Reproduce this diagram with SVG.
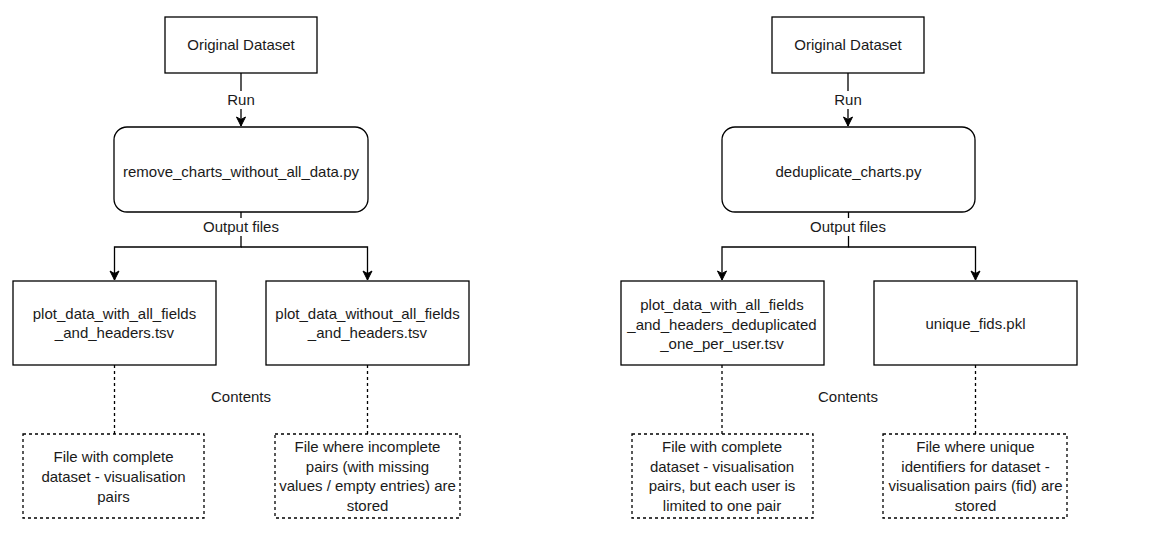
<svg xmlns="http://www.w3.org/2000/svg" width="1149" height="540" viewBox="0 0 1149 540">
<style>
  .box { fill: #fff; stroke: #000; stroke-width: 1.3; }
  .dbox { fill: #fff; stroke: #000; stroke-width: 1.3; stroke-dasharray: 3 3; }
  .edge { fill: none; stroke: #000; stroke-width: 1.3; }
  .dedge { fill: none; stroke: #000; stroke-width: 1.3; stroke-dasharray: 3 3; }
  text { font-family: "Liberation Sans", Arial, sans-serif; font-size: 15px; fill: #1a1a1a; text-anchor: middle; }
  .lbl { fill: #fff; stroke: none; }
</style>
<defs>
  <marker id="arr" markerUnits="userSpaceOnUse" markerWidth="12" markerHeight="12" viewBox="0 0 12 12" refX="10" refY="6" orient="auto">
    <path d="M1,1.5 L10,6 L1,10.5 L3.5,6 z" fill="#000" stroke="#000" stroke-width="1"/>
  </marker>
</defs>
<rect width="1149" height="540" fill="#fff"/>

<g id="connectors">
  <path class="edge" d="M241,73 V126" marker-end="url(#arr)"/>
  <path class="edge" d="M241,212 V247 H114.5 V280" marker-end="url(#arr)"/>
  <path class="edge" d="M241,247 H367.5 V280" marker-end="url(#arr)"/>
  <path class="dedge" d="M114.5,365 V434"/>
  <path class="dedge" d="M367.5,365 V434"/>

  <path class="edge" d="M848,73 V126" marker-end="url(#arr)"/>
  <path class="edge" d="M848.5,212 V247 H722 V280" marker-end="url(#arr)"/>
  <path class="edge" d="M848.5,247 H975.5 V280" marker-end="url(#arr)"/>
  <path class="dedge" d="M722,365 V434"/>
  <path class="dedge" d="M975.5,365 V434"/>

  <rect class="lbl" x="226" y="91" width="30" height="18"/>
  <text x="241" y="105">Run</text>
  <rect class="lbl" x="203" y="218" width="76" height="18"/>
  <text x="241" y="232">Output files</text>
  <text x="241" y="402">Contents</text>

  <rect class="lbl" x="833" y="91" width="30" height="18"/>
  <text x="848" y="105">Run</text>
  <rect class="lbl" x="810" y="218" width="76" height="18"/>
  <text x="848" y="232">Output files</text>
  <text x="848" y="402">Contents</text>
</g>

<g id="left-original">
  <rect class="box" x="165" y="17" width="152" height="56"/>
  <text x="241" y="50">Original Dataset</text>
</g>
<g id="left-script">
  <rect class="box" x="114" y="127" width="254" height="85" rx="13"/>
  <text x="241" y="177">remove_charts_without_all_data.py</text>
</g>
<g id="left-file1">
  <rect class="box" x="13" y="281" width="203" height="84"/>
  <text x="114.5" y="319">plot_data_with_all_fields</text>
  <text x="114.5" y="338">_and_headers.tsv</text>
</g>
<g id="left-file2">
  <rect class="box" x="266" y="281" width="203" height="84"/>
  <text x="367.5" y="319">plot_data_without_all_fields</text>
  <text x="367.5" y="338">_and_headers.tsv</text>
</g>
<g id="left-desc1">
  <rect class="dbox" x="23" y="434" width="181" height="84"/>
  <text x="113.5" y="462">File with complete</text>
  <text x="113.5" y="482">dataset - visualisation</text>
  <text x="113.5" y="502">pairs</text>
</g>
<g id="left-desc2">
  <rect class="dbox" x="275" y="434" width="185" height="84"/>
  <text x="367.5" y="452">File where incomplete</text>
  <text x="367.5" y="471.5">pairs (with missing</text>
  <text x="367.5" y="491">values / empty entries) are</text>
  <text x="367.5" y="510.5">stored</text>
</g>

<g id="right-original">
  <rect class="box" x="772" y="17" width="152" height="56"/>
  <text x="848" y="50">Original Dataset</text>
</g>
<g id="right-script">
  <rect class="box" x="722" y="127" width="253" height="85" rx="13"/>
  <text x="848.5" y="177">deduplicate_charts.py</text>
</g>
<g id="right-file1">
  <rect class="box" x="621" y="281" width="203" height="84"/>
  <text x="722" y="310">plot_data_with_all_fields</text>
  <text x="722" y="329.5">_and_headers_deduplicated</text>
  <text x="722" y="349">_one_per_user.tsv</text>
</g>
<g id="right-file2">
  <rect class="box" x="874" y="281" width="203" height="84"/>
  <text x="975.5" y="329">unique_fids.pkl</text>
</g>
<g id="right-desc1">
  <rect class="dbox" x="632" y="434" width="181" height="84"/>
  <text x="722" y="452">File with complete</text>
  <text x="722" y="471.5">dataset - visualisation</text>
  <text x="722" y="491">pairs, but each user is</text>
  <text x="722" y="510.5">limited to one pair</text>
</g>
<g id="right-desc2">
  <rect class="dbox" x="883" y="434" width="184" height="84"/>
  <text x="975.5" y="452">File where unique</text>
  <text x="975.5" y="471.5">identifiers for dataset -</text>
  <text x="975.5" y="491">visualisation pairs (fid) are</text>
  <text x="975.5" y="510.5">stored</text>
</g>
</svg>
